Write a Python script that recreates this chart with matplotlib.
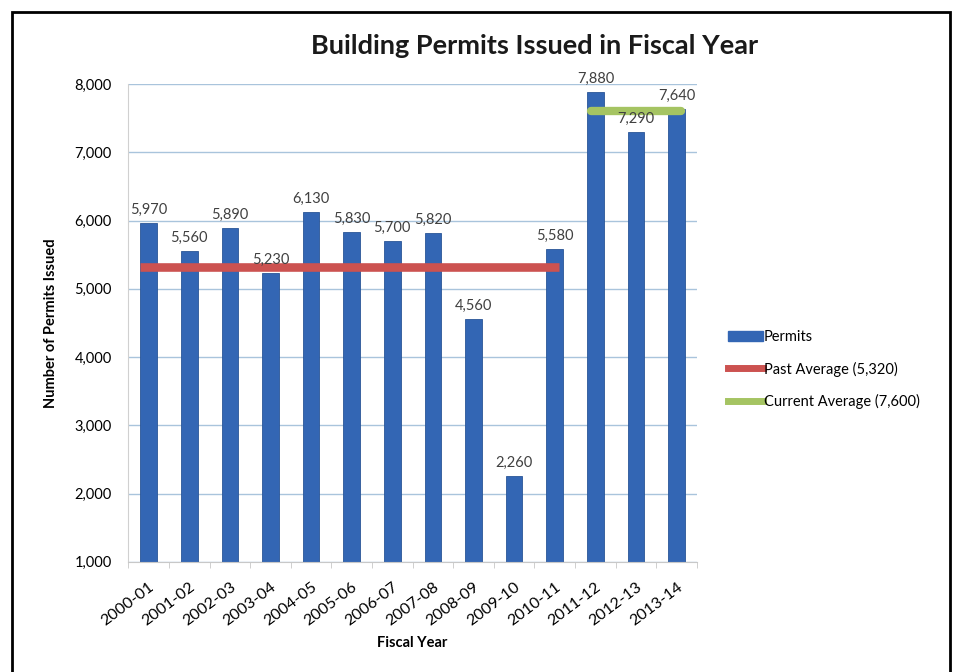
import matplotlib.pyplot as plt
from matplotlib.patches import Rectangle
from matplotlib.lines import Line2D
from matplotlib.transforms import ScaledTranslation

plt.rcParams['font.family'] = ['Lato', 'DejaVu Sans']

years = ["2000-01", "2001-02", "2002-03", "2003-04", "2004-05", "2005-06", "2006-07",
         "2007-08", "2008-09", "2009-10", "2010-11", "2011-12", "2012-13", "2013-14"]
permits = [5970, 5560, 5890, 5230, 6130, 5830, 5700, 5820, 4560, 2260, 5580, 7880, 7290, 7640]
past_avg = 5320
current_avg = 7600
past_span = (-0.2, 10.1)
current_span = (10.9, 13.1)

bar_color = "#3366B4"
red = "#CC5250"
green = "#A5C462"
grid_color = "#A9C4DC"

fig = plt.figure(figsize=(9.72, 6.72), dpi=100)
ax = fig.add_axes([0.132, 0.164, 0.585, 0.711])

x = list(range(len(years)))
ax.bar(x, permits, width=0.41, color=bar_color, edgecolor="#2A5597", linewidth=0.6,
       bottom=0, zorder=2)
ax.plot(past_span, [past_avg, past_avg], color=red, lw=6.2, solid_capstyle="butt", zorder=3)
ax.plot(current_span, [current_avg, current_avg], color=green, lw=6,
        solid_capstyle="round", zorder=3)

for xi, v in zip(x, permits):
    ax.text(xi, v + 90, f"{v:,}", ha="center", va="bottom", fontsize=10.5,
            color="#404040", zorder=4)

ax.set_xlim(-0.5, len(years) - 0.5)
ax.set_ylim(1000, 8000)
ax.set_yticks(range(1000, 8001, 1000))
ax.set_yticklabels([f"{t:,}" for t in range(1000, 8001, 1000)], fontsize=10.5)
ax.yaxis.grid(True, color=grid_color, lw=1)
ax.set_axisbelow(True)

ax.set_xticks(x)
ax.set_xticklabels(years, rotation=37, ha="right", rotation_mode="anchor", fontsize=11.5)
shift = ScaledTranslation(6 / 100, 0, fig.dpi_scale_trans)
for lbl in ax.get_xticklabels():
    lbl.set_transform(lbl.get_transform() + shift)
ax.set_xticks([i + 0.5 for i in range(-1, len(years))], minor=True)
ax.tick_params(axis="x", which="major", length=0, pad=13)
ax.tick_params(axis="x", which="minor", length=4, color="#C8C8C8")
ax.tick_params(axis="y", length=0, pad=12)

for s in ["top", "right"]:
    ax.spines[s].set_visible(False)
ax.spines["left"].set_color("#D0D0D0")
ax.spines["bottom"].set_color("#C8C8C8")

ax.set_xlabel("Fiscal Year", fontsize=10.5, fontweight="bold")
ax.xaxis.set_label_coords(0.5, -0.155)
ax.set_ylabel("Number of Permits Issued", fontsize=10.5, fontweight="bold", labelpad=12)

fig.text(0.55, 0.932, "Building Permits Issued in Fiscal Year", ha="center", va="center",
         fontsize=19.5, fontweight="bold", color="#1a1a1a")

handles = [Rectangle((0, 0), 1, 1, color=bar_color),
           Line2D([], [], color=red, lw=5),
           Line2D([], [], color=green, lw=5)]
labels = ["Permits", "Past Average (5,320)", "Current Average (7,600)"]
fig.legend(handles, labels, loc="center left", bbox_to_anchor=(0.735, 0.45),
           frameon=False, fontsize=10.5, handlelength=2.4, handletextpad=0.1,
           labelspacing=1.2)

fig.patches.append(Rectangle((12 / 972, -0.05), 938 / 972, 1 - 12 / 672 + 0.05,
                             transform=fig.transFigure, fill=False, ec="black", lw=2))

fig.savefig("out.png", dpi=100)
